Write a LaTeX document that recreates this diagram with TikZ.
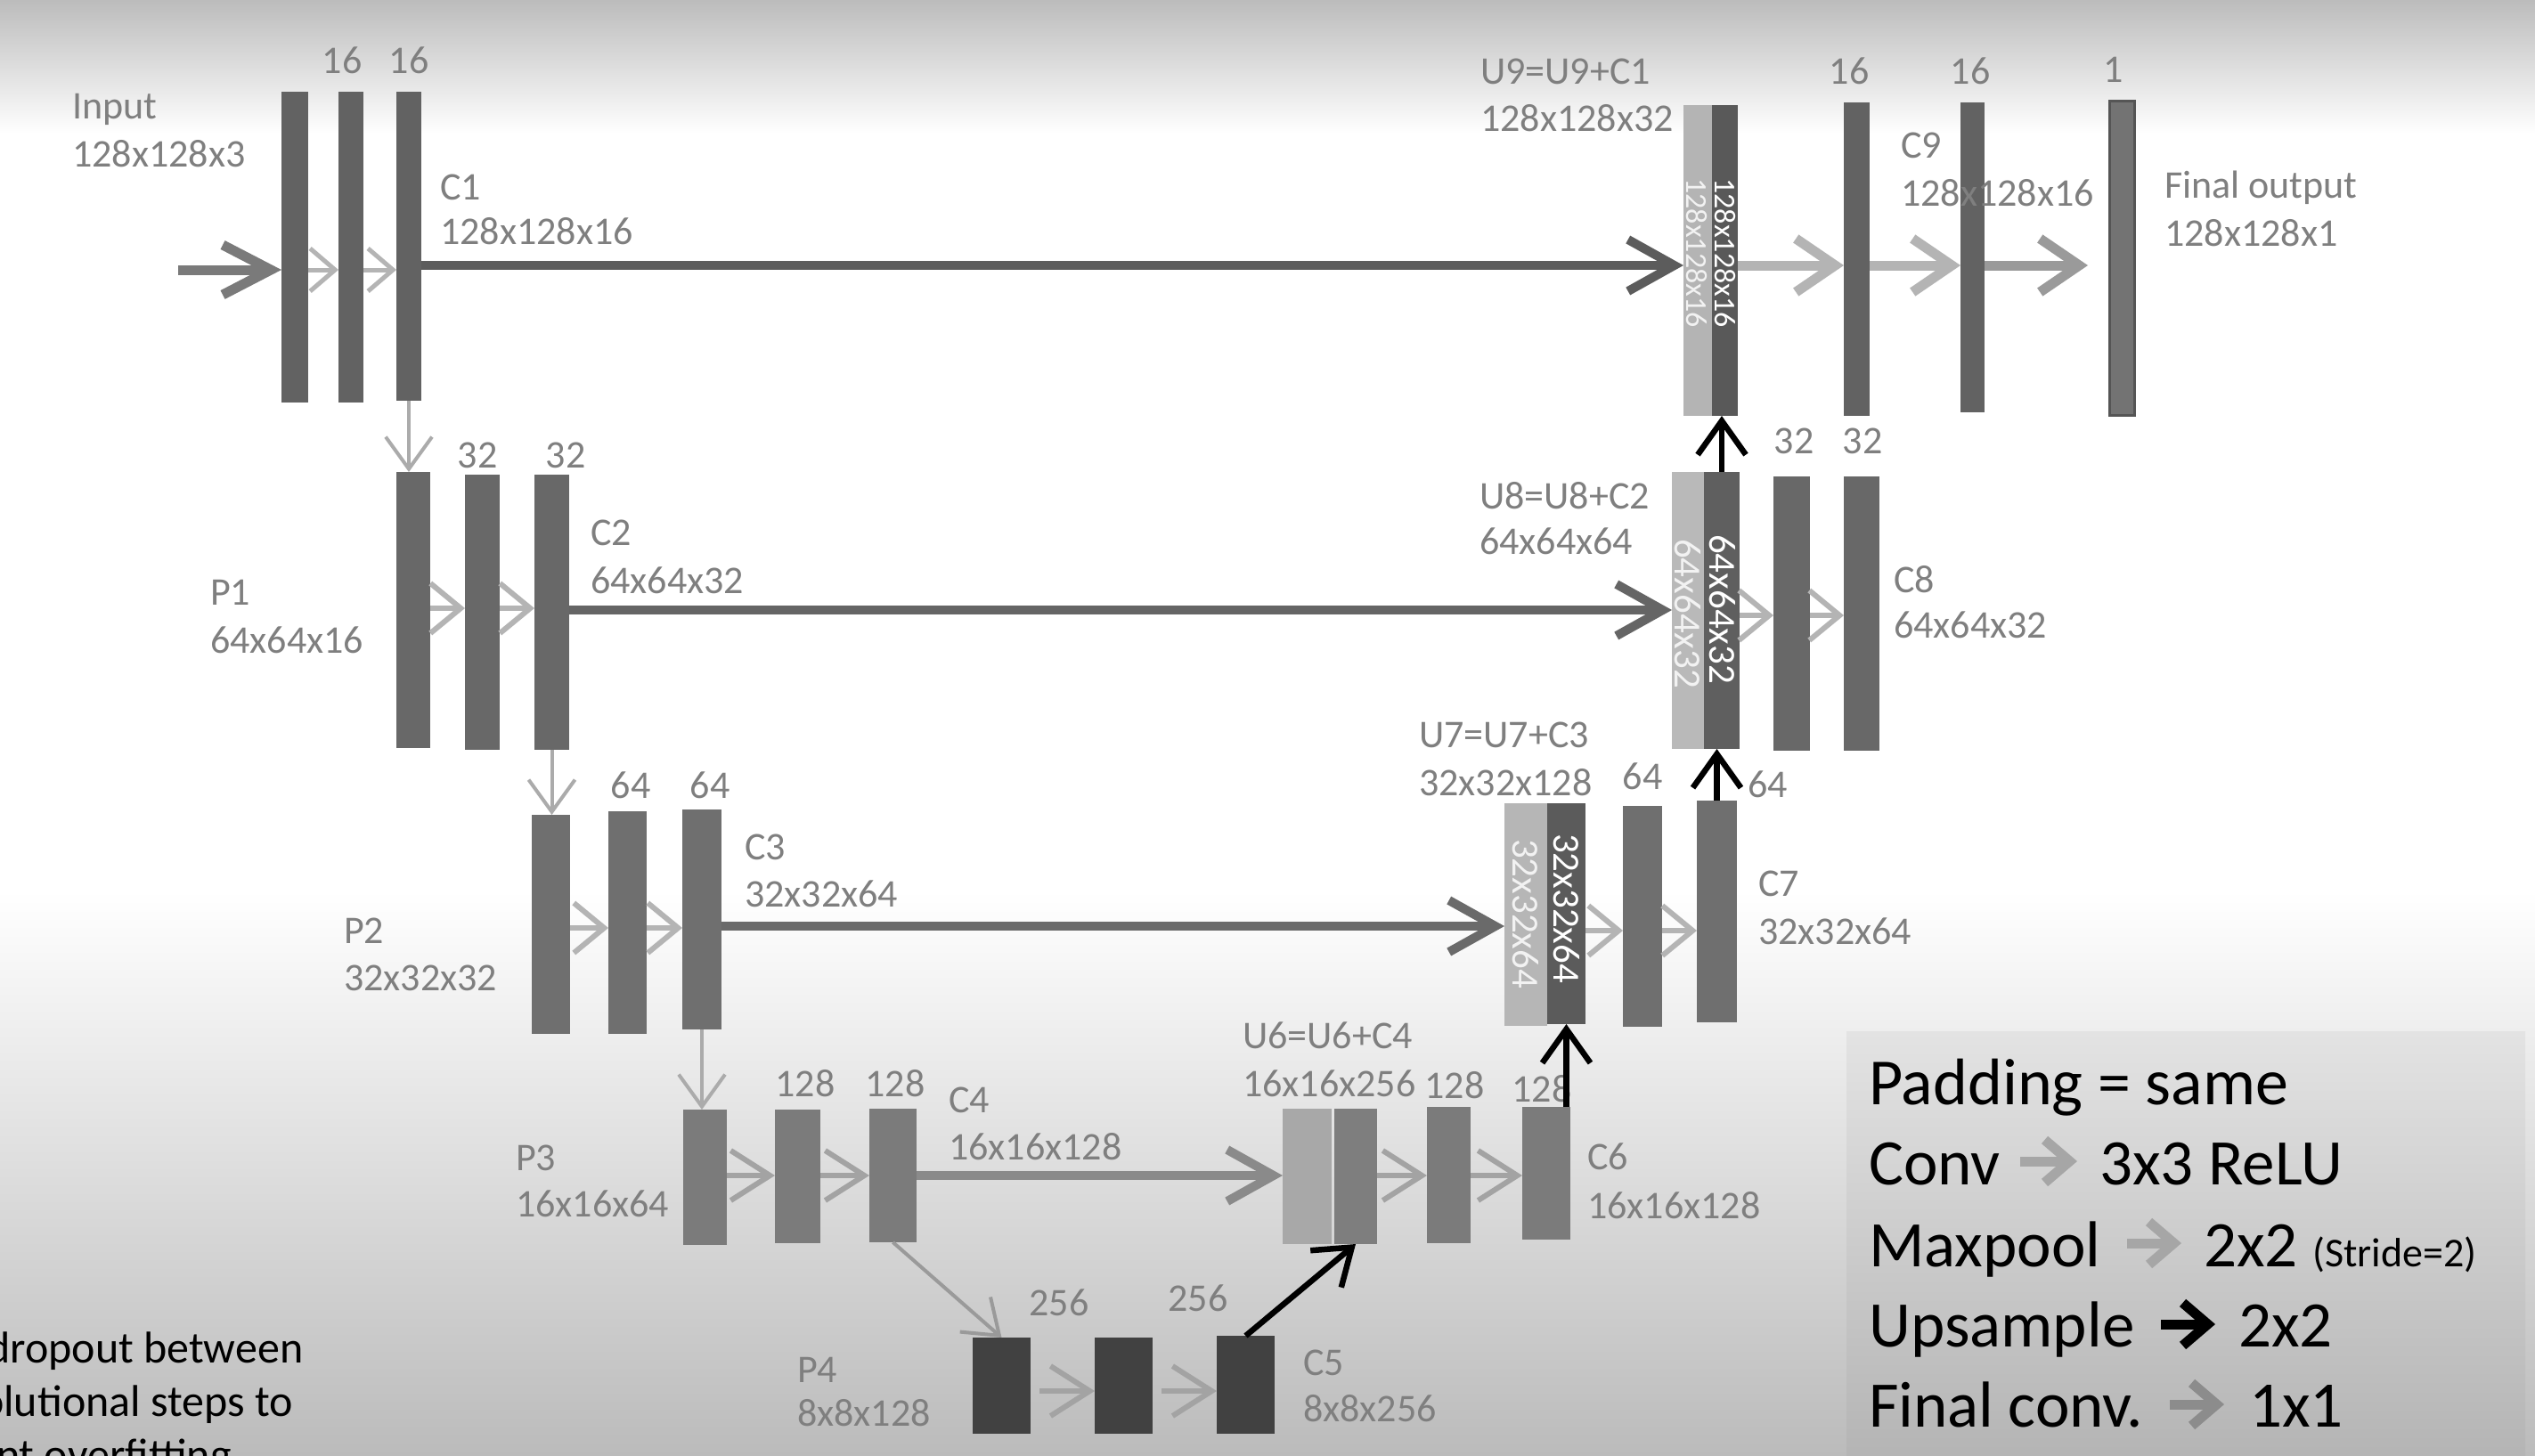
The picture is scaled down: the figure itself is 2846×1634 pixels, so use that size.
\documentclass[tikz,border=0pt]{standalone}
\usepackage{fontspec}
\setmainfont{Carlito}
\usetikzlibrary{arrows.meta}
\definecolor{lblc}{HTML}{7F7F7F}
\definecolor{barA}{HTML}{626262}
\definecolor{barB}{HTML}{686868}
\definecolor{barC}{HTML}{6F6F6F}
\definecolor{barD}{HTML}{7B7B7B}
\definecolor{barE}{HTML}{414141}
\definecolor{ulA}{HTML}{B4B4B4}
\definecolor{udA}{HTML}{595959}
\definecolor{ulB}{HTML}{B9B9B9}
\definecolor{udB}{HTML}{5F5F5F}
\definecolor{ulC}{HTML}{B6B6B6}
\definecolor{udC}{HTML}{5B5B5B}
\definecolor{ulD}{HTML}{A8A8A8}
\definecolor{udD}{HTML}{7E7E7E}
\definecolor{finc}{HTML}{737373}
\definecolor{finb}{HTML}{555555}
\definecolor{skA}{HTML}{5C5C5C}
\definecolor{skB}{HTML}{656565}
\definecolor{skC}{HTML}{6A6A6A}
\definecolor{skD}{HTML}{8A8A8A}
\definecolor{cvA}{HTML}{B4B4B4}
\definecolor{cvB}{HTML}{A3A3A3}
\definecolor{inc}{HTML}{7A7A7A}
\definecolor{poolc}{HTML}{ABABAB}
\definecolor{poold}{HTML}{9A9A9A}
\definecolor{fcc}{HTML}{9A9A9A}
\definecolor{bgT}{HTML}{BCBCBC}
\definecolor{bgB}{HTML}{BBBBBB}
\definecolor{lgT}{HTML}{E3E3E3}
\definecolor{lgB}{HTML}{B4B4B4}
\definecolor{lgarr}{HTML}{A6A6A6}
\definecolor{lgfin}{HTML}{8C8C8C}
\definecolor{ltxt}{HTML}{F2F2F2}
\newcommand\mkbar[6]{\node[barsty, fill=#6, minimum width={#3pt-#2pt}, minimum height={#5pt-#4pt}] (#1) at ({(#2+#3)/2},{(#4+#5)/2}) {};}
\begin{document}
\begin{tikzpicture}[x=1pt,y=-1pt,
  barsty/.style={draw=none, inner sep=0pt, outer sep=0pt, rectangle},
  lbl/.style={font=\fontsize{44}{53}\selectfont, text=lblc, inner sep=0pt},
  lw/.style={lbl, anchor=base west},
  lc/.style={lbl, anchor=base},
  rtxt/.style={inner sep=0pt},
  leg/.style={font=\fontsize{73}{88}\selectfont, text=black, inner sep=0pt, anchor=base west},
  note/.style={font=\fontsize{50}{60}\selectfont, text=black, inner sep=0pt, anchor=base west},
  cvone/.style={draw=cvA, line width=5pt, -{Straight Barb[length=28pt,width=48pt]}},
  cvtwo/.style={draw=cvA, line width=6pt, -{Straight Barb[length=34pt,width=56pt]}},
  cvthree/.style={draw=cvB, line width=6pt, -{Straight Barb[length=44pt,width=56pt]}},
  bigcv/.style={draw=#1, line width=11pt, -{Straight Barb[length=44pt,width=60pt]}},
  skiparr/.style={draw=#1, line width=10pt, -{Straight Barb[length=52pt,width=58pt]}},
  inarr/.style={draw=inc, line width=11pt, -{Straight Barb[length=54pt,width=56pt]}},
  poolarr/.style={draw=#1, line width=4pt, -{Straight Barb[length=36pt,width=52pt]}},
  uparr/.style={draw=black, line width=6.5pt, -{Straight Barb[length=38pt,width=54pt]}},
  legarr/.style={draw=#1, line width=11pt, -{Straight Barb[length=28pt,width=48pt]}}
]
\useasboundingbox (0,0) rectangle (2846,1634);
\clip (0,0) rectangle (2846,1634);
% background
\fill[white] (0,0) rectangle (2846,1634);
\shade[top color=bgT, bottom color=white] (0,0) rectangle (2846,150);
\shade[top color=white, bottom color=bgB] (0,1000) rectangle (2846,1634);
% legend box
\shade[top color=lgT, bottom color=lgB] (2073,1158) rectangle (2835,1640);

% ---------- bars ----------
\mkbar{c1a}{316}{346}{103}{452}{barA}
\mkbar{c1b}{380}{408}{103}{452}{barA}
\mkbar{c1c}{445}{473}{103}{450}{barA}
\mkbar{u9l}{1890}{1922}{118}{467}{ulA}
\mkbar{u9d}{1922}{1951}{118}{467}{udA}
\mkbar{c9a}{2070}{2099}{115}{467}{barA}
\mkbar{c9b}{2201}{2228}{115}{463}{barA}
\node[barsty, fill=finc, draw=finb, line width=3pt, minimum width=28pt, minimum height=353pt] (fin) at (2382,289.5) {};

\mkbar{p1a}{445}{483}{530}{840}{barB}
\mkbar{p1b}{522}{561}{533}{842}{barB}
\mkbar{p1c}{600}{639}{533}{842}{barB}
\mkbar{u8l}{1877}{1913}{530}{841}{ulB}
\mkbar{u8d}{1913}{1953}{530}{841}{udB}
\mkbar{c8a}{1991}{2032}{535}{843}{barB}
\mkbar{c8b}{2070}{2110}{535}{843}{barB}

\mkbar{p2a}{597}{640}{915}{1161}{barC}
\mkbar{p2b}{683}{726}{911}{1161}{barC}
\mkbar{p2c}{766}{810}{909}{1156}{barC}
\mkbar{u7l}{1689}{1737}{902}{1152}{ulC}
\mkbar{u7d}{1737}{1780}{902}{1150}{udC}
\mkbar{c7a}{1822}{1866}{905}{1153}{barC}
\mkbar{c7b}{1905}{1950}{899}{1148}{barC}

\mkbar{p3a}{767}{816}{1246}{1398}{barD}
\mkbar{p3b}{870}{921}{1246}{1396}{barD}
\mkbar{p3c}{976}{1029}{1245}{1395}{barD}
\mkbar{u6l}{1440}{1495}{1245}{1397}{ulD}
\mkbar{u6d}{1498}{1546}{1245}{1397}{udD}
\mkbar{c6a}{1602}{1651}{1243}{1396}{barD}
\mkbar{c6b}{1709}{1763}{1243}{1392}{barD}

\mkbar{p4a}{1092}{1157}{1502}{1610}{barE}
\mkbar{p4b}{1229}{1294}{1502}{1610}{barE}
\mkbar{p4c}{1366}{1431}{1500}{1610}{barE}

% ---------- rotated texts inside concatenated blocks ----------
\node[rtxt, font=\fontsize{34}{40}\selectfont, text=white, rotate=-90] (t9d) at (1937,284) {128x128x16};
\node[rtxt, font=\fontsize{34}{40}\selectfont, text=ltxt, rotate=-90] (t9l) at (1905,284) {128x128x16};
\node[rtxt, font=\fontsize{43}{50}\selectfont, text=white, rotate=-90] (t8d) at (1934,684) {64x64x32};
\node[rtxt, font=\fontsize{43}{50}\selectfont, text=ltxt, rotate=-90] (t8l) at (1895,689) {64x64x32};
\node[rtxt, font=\fontsize{43}{50}\selectfont, text=white, rotate=-90] (t7d) at (1759,1020) {32x32x64};
\node[rtxt, font=\fontsize{43}{50}\selectfont, text=ltxt, rotate=-90] (t7l) at (1713,1026) {32x32x64};

% ---------- labels ----------
\node[lw] (tIn) at (81,133) {Input};
\node[lw] (tIns) at (81,187) {128x128x3};
\node[lc] (n1a) at (384,82) {16};
\node[lc] (n1b) at (459,82) {16};
\node[lw] (tC1) at (494,224) {C1};
\node[lw] (tC1s) at (494,274) {128x128x16};
\node[lw] (tU9) at (1662,94) {U9=U9+C1};
\node[lw] (tU9s) at (1662,147) {128x128x32};
\node[lc] (n9a) at (2076,94) {16};
\node[lc] (n9b) at (2212,94) {16};
\node[lc] (nfin) at (2373,92) {1};
\node[lw] (tC9) at (2134,177) {C9};
\node[lw] (tC9s) at (2134,231) {128x128x16};
\node[lw] (tFin) at (2430,222) {Final output};
\node[lw] (tFins) at (2430,276) {128x128x1};

\node[lc] (n2a) at (536,525) {32};
\node[lc] (n2b) at (635,525) {32};
\node[lw] (tP1) at (236,679) {P1};
\node[lw] (tP1s) at (236,733) {64x64x16};
\node[lw] (tC2) at (663,612) {C2};
\node[lw] (tC2s) at (663,666) {64x64x32};
\node[lw] (tU8) at (1661,571) {U8=U8+C2};
\node[lw] (tU8s) at (1661,622) {64x64x64};
\node[lc] (n8a) at (2014,509) {32};
\node[lc] (n8b) at (2091,509) {32};
\node[lw] (tC8) at (2126,665) {C8};
\node[lw] (tC8s) at (2126,716) {64x64x32};

\node[lc] (n3a) at (708,896) {64};
\node[lc] (n3b) at (797,896) {64};
\node[lw] (tP2) at (386,1059) {P2};
\node[lw] (tP2s) at (386,1112) {32x32x32};
\node[lw] (tC3) at (836,965) {C3};
\node[lw] (tC3s) at (836,1018) {32x32x64};
\node[lw] (tU7) at (1593,839) {U7=U7+C3};
\node[lw] (tU7s) at (1593,893) {32x32x128};
\node[lc] (n7a) at (1844,886) {64};
\node[lw] (n7b) at (1962,895) {64};
\node[lw] (tC7) at (1974,1006) {C7};
\node[lw] (tC7s) at (1974,1060) {32x32x64};

\node[lc] (n4a) at (904,1231) {128};
\node[lc] (n4b) at (1005,1231) {128};
\node[lw] (tP3) at (579,1314) {P3};
\node[lw] (tP3s) at (579,1366) {16x16x64};
\node[lw] (tC4) at (1065,1249) {C4};
\node[lw] (tC4s) at (1065,1302) {16x16x128};
\node[lw] (tU6) at (1395,1177) {U6=U6+C4};
\node[lw] (tU6s) at (1395,1231) {16x16x256};
\node[lc] (n6a) at (1633,1233) {128};
\node[lc] (n6b) at (1731,1237) {128};
\node[lw] (tC6) at (1782,1313) {C6};
\node[lw] (tC6s) at (1782,1368) {16x16x128};

\node[lc] (n5a) at (1189,1477) {256};
\node[lc] (n5b) at (1345,1472) {256};
\node[lw] (tP4) at (895,1552) {P4};
\node[lw] (tP4s) at (895,1601) {8x8x128};
\node[lw] (tC5) at (1463,1544) {C5};
\node[lw] (tC5s) at (1463,1596) {8x8x256};

% ---------- connectors ----------
\coordinate (r1) at (0,298);
\coordinate (r1i) at (0,303);
\coordinate (inp) at (200,303);
\draw[inarr] (inp) -- (c1a.west |- inp);
\draw[cvone] (c1a.east |- r1i) -- (c1b.west |- r1i);
\draw[cvone] (c1b.east |- r1i) -- (c1c.west |- r1i);
\draw[skiparr=skA] (c1c.east |- r1) -- (u9l.west |- r1);
\draw[bigcv=cvA] (u9d.east |- r1) -- (c9a.west |- r1);
\draw[bigcv=cvA] (c9a.east |- r1) -- (c9b.west |- r1);
\draw[bigcv=fcc, shorten >=24pt] (c9b.east |- r1) -- (fin.west |- r1);

\coordinate (r2) at (0,685);
\coordinate (r2c) at (0,683);
\coordinate (r2u) at (0,691);
\draw[poolarr=poolc] (c1c.south) -- (c1c.south |- p1a.north);
\draw[cvtwo] (p1a.east |- r2c) -- (p1b.west |- r2c);
\draw[cvtwo] (p1b.east |- r2c) -- (p1c.west |- r2c);
\draw[skiparr=skB] (p1c.east |- r2) -- (u8l.west |- r2);
\draw[cvtwo] (u8d.east |- r2u) -- (c8a.west |- r2u);
\draw[cvtwo] (c8a.east |- r2u) -- (c8b.west |- r2u);
\draw[uparr] (u8d.north) -- (u8d.north |- u9d.south);

\coordinate (r3) at (0,1040);
\coordinate (r3c) at (0,1042);
\coordinate (r3u) at (0,1045);
\draw[poolarr=poolc] (p1c.south) -- (p1c.south |- p2a.north);
\draw[cvtwo] (p2a.east |- r3c) -- (p2b.west |- r3c);
\draw[cvtwo] (p2b.east |- r3c) -- (p2c.west |- r3c);
\draw[skiparr=skC] (p2c.east |- r3) -- (u7l.west |- r3);
\draw[cvtwo] (u7d.east |- r3u) -- (c7a.west |- r3u);
\draw[cvtwo] (c7a.east |- r3u) -- (c7b.west |- r3u);
\draw[uparr] (c7b.north) -- (c7b.north |- u8d.south);

\coordinate (r4) at (0,1320);
\draw[poolarr=poolc] (p2c.south) -- (p2c.south |- p3a.north);
\draw[cvthree] (p3a.east |- r4) -- (p3b.west |- r4);
\draw[cvthree] (p3b.east |- r4) -- (p3c.west |- r4);
\draw[skiparr=skD] (p3c.east |- r4) -- (u6l.west |- r4);
\draw[cvthree] (u6d.east |- r4) -- (c6a.west |- r4);
\draw[cvthree] (c6a.east |- r4) -- (c6b.west |- r4);
\draw[uparr] (u7d.south |- c6b.north) -- (u7d.south);

\coordinate (r5) at (0,1562);
\draw[poolarr=poold] (p3c.south) -- (p4a.north);
\draw[cvthree, shorten <=10pt] (p4a.east |- r5) -- (p4b.west |- r5);
\draw[cvthree, shorten <=10pt] (p4b.east |- r5) -- (p4c.west |- r5);
\draw[uparr] (p4c.north) -- (u6d.south);

% ---------- legend ----------
\node[leg, font=\fontsize{74}{88}\selectfont] (lg1) at (2098,1240) {Padding = same};
\node[leg] (lg2) at (2098,1330) {Conv};
\node[leg] (lg2b) at (2357,1330) {3x3 ReLU};
\node[leg] (lg3) at (2098,1422) {Maxpool};
\node[leg] (lg3b) at (2474,1422) {2x2};
\node[leg, font=\fontsize{46}{54}\selectfont] (lg3c) at (2596,1422) {(Stride=2)};
\node[leg] (lg4) at (2098,1512) {Upsample};
\node[leg] (lg4b) at (2513,1512) {2x2};
\node[leg] (lg5) at (2098,1602) {Final conv.};
\node[leg] (lg5b) at (2525,1602) {1x1};
\coordinate (la1) at (2268,1304); \coordinate (la2) at (2332,1304);
\coordinate (lb1) at (2388,1396); \coordinate (lb2) at (2449,1396);
\coordinate (lc1) at (2426,1487); \coordinate (lc2) at (2487,1487);
\coordinate (ld1) at (2436,1577); \coordinate (ld2) at (2497,1577);
\draw[legarr=lgarr] (la1) -- (la2);
\draw[legarr=lgarr] (lb1) -- (lb2);
\draw[legarr=black] (lc1) -- (lc2);
\draw[legarr=lgfin] (ld1) -- (ld2);

% ---------- note at bottom left ----------
\node[note] (nt1) at (-15,1530) {dropout between};
\node[note] (nt2) at (-22,1590) {olutional steps to};
\node[note] (nt3) at (-4,1650) {nt overfitting};
\end{tikzpicture}
\end{document}
